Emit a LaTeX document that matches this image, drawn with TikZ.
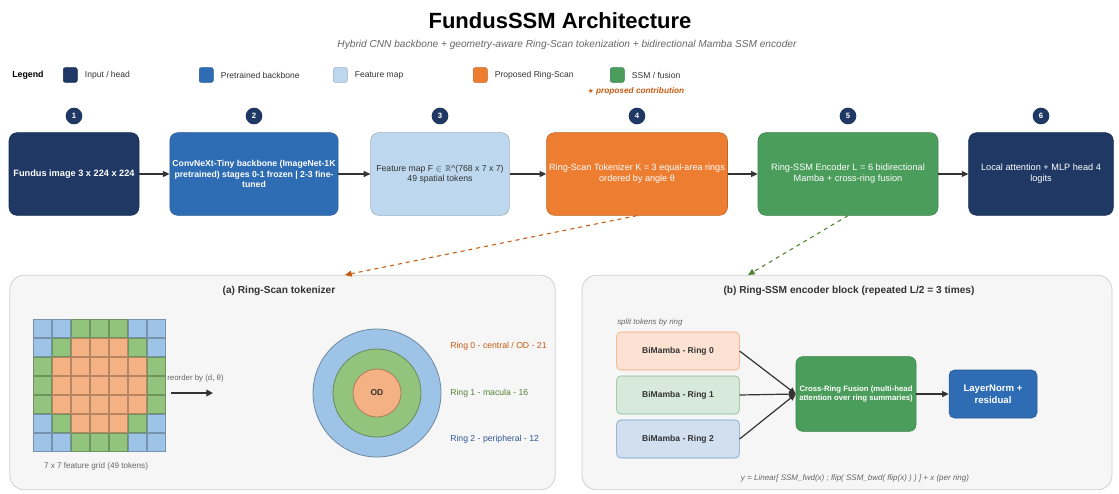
\documentclass[tikz,border=0pt]{standalone}
\usepackage{amssymb}
\usepackage{fontspec}
\setmainfont{Liberation Sans}
\newfontfamily\symbfont{DejaVu Sans}
\usetikzlibrary{arrows.meta}

\definecolor{navy}{HTML}{1F3864}
\definecolor{pretrained}{HTML}{2E6DB4}
\definecolor{featmap}{HTML}{BDD7EE}
\definecolor{ringscan}{HTML}{ED7D31}
\definecolor{ssmgreen}{HTML}{4A9D5B}
\definecolor{panelfill}{HTML}{F6F6F6}
\definecolor{panelline}{HTML}{D0D0D0}
\definecolor{darktext}{HTML}{333333}
\definecolor{greytext}{HTML}{666666}
\definecolor{cellblue}{HTML}{9DC3E6}
\definecolor{cellgreen}{HTML}{93C47D}
\definecolor{cellorange}{HTML}{F4B183}
\definecolor{ringzero}{HTML}{C55A11}
\definecolor{ringone}{HTML}{548235}
\definecolor{ringtwo}{HTML}{2F5597}

\newcommand{\fs}[1]{\fontsize{#1}{\dimexpr#1pt*6/5\relax}\selectfont}

\tikzset{
  stagebox/.style={rectangle, rounded corners=6pt, fill=#1, draw=#1!80!black,
    minimum height=62pt, align=center, inner sep=2pt, text=white},
  numdot/.style={circle, fill=navy, text=white, minimum size=12.5pt, inner sep=0pt,
    font=\fs{5.8}\bfseries},
  swatch/.style={rectangle, rounded corners=1.5pt, fill=#1, draw=#1!80!black,
    minimum width=10.5pt, minimum height=11pt, inner sep=0pt, anchor=west},
  legendtext/.style={anchor=west, font=\fs{6.4}, text=darktext},
  flow/.style={draw=darktext, line width=0.9pt, -{Triangle[length=5pt,width=4.5pt]}},
  panel/.style={rectangle, rounded corners=11pt, fill=panelfill, draw=panelline,
    line width=0.6pt},
  cellB/.style={fill=cellblue, draw=cellblue!75!black, line width=0.4pt},
  cellG/.style={fill=cellgreen, draw=cellgreen!75!black, line width=0.4pt},
  cellO/.style={fill=cellorange, draw=cellorange!75!black, line width=0.4pt},
  mambabox/.style={rectangle, rounded corners=3pt, fill=#1!22, draw=#1!70,
    minimum width=92pt, minimum height=28.5pt, font=\fs{6.4}\bfseries, text=darktext},
  smalltext/.style={font=\fs{5.2}\itshape, text=greytext}
}

\begin{document}
\begin{tikzpicture}[x=0.75pt,y=-0.75pt]
  \useasboundingbox (0,0) rectangle (1119,493);

  % Title and subtitle
  \node[font=\fs{16.5}\bfseries, text=black] (title) at (560,21) {FundusSSM Architecture};
  \node[font=\fs{7.6}\itshape, text=greytext] (subtitle) at (567,45)
    {Hybrid CNN backbone + geometry-aware Ring-Scan tokenization + bidirectional Mamba SSM encoder};

  % Legend
  \node[anchor=west, inner sep=0pt, font=\fs{6.6}\bfseries] (legend) at (12,75) {Legend};
  \node[swatch=navy] (sw1) at (63,75) {};
  \node[legendtext] at (sw1.east) {\hspace{2pt}Input / head};
  \node[swatch=pretrained] (sw2) at (199,75) {};
  \node[legendtext] at (sw2.east) {\hspace{2pt}Pretrained backbone};
  \node[swatch=featmap] (sw3) at (333,75) {};
  \node[legendtext] at (sw3.east) {\hspace{2pt}Feature map};
  \node[swatch=ringscan] (sw4) at (473,75) {};
  \node[legendtext] at (sw4.east) {\hspace{2pt}Proposed Ring-Scan};
  \node[swatch=ssmgreen] (sw5) at (610,75) {};
  \node[legendtext] at (sw5.east) {\hspace{2pt}SSM / fusion};
  \node[font=\fs{6.2}\itshape\bfseries, text=ringzero] (contrib) at (636,91)
    {{\symbfont\fs{5}★} proposed contribution};

  % Pipeline stages
  \node[stagebox=navy, minimum width=97.5pt, font=\fs{6.9}\bfseries] (b1) at (74,174)
    {Fundus image 3 x 224 x 224};
  \node[stagebox=pretrained, minimum width=124.5pt, font=\fs{6.5}\bfseries] (b2) at (254,174)
    {ConvNeXt-Tiny backbone (ImageNet-1K\\pretrained) stages 0-1 frozen | 2-3 fine-\\tuned};
  \node[stagebox=featmap, minimum width=104pt, font=\fs{6.5}, text=darktext] (b3) at (440,174)
    {Feature map F $\in\mathbb{R}$\^{}(768 x 7 x 7)\\49 spatial tokens};
  \node[stagebox=ringscan, minimum width=133.5pt, font=\fs{6.8}] (b4) at (637,174)
    {Ring-Scan Tokenizer K = 3 equal-area rings\\ordered by angle θ};
  \node[stagebox=ssmgreen, minimum width=135pt, font=\fs{6.9}] (b5) at (848,174)
    {Ring-SSM Encoder L = 6 bidirectional\\Mamba + cross-ring fusion};
  \node[stagebox=navy, minimum width=108.5pt, font=\fs{6.9}] (b6) at (1041,174)
    {Local attention + MLP head 4\\logits};

  % Step numbers
  \foreach \n/\x in {1/74, 2/254, 3/440, 4/637, 5/848, 6/1041}
    \node[numdot] (n\n) at (\x,116) {\n};

  % Stage arrows
  \draw[flow] (b1) -- (b2);
  \draw[flow] (b2) -- (b3);
  \draw[flow] (b3) -- (b4);
  \draw[flow] (b4) -- (b5);
  \draw[flow] (b5) -- (b6);

  % Detail panels
  \node[panel, minimum width=409pt, minimum height=161pt] (pa) at (282.5,382.5) {};
  \node[panel, minimum width=397.5pt, minimum height=161pt] (pb) at (847,382.5) {};
  \node[font=\fs{7.6}\bfseries, text=darktext] (pa-title) at (279,291) {(a) Ring-Scan tokenizer};
  \node[font=\fs{7.6}\bfseries, text=darktext] (pb-title) at (849,291)
    {(b) Ring-SSM encoder block (repeated L/2 = 3 times)};

  % Links from stages to panels
  \coordinate (pa-in) at (345,275);
  \coordinate (pb-in) at (748,275);
  \draw[ringzero, dashed, line width=0.8pt, -{Triangle[length=5pt,width=4.5pt]}] (b4.south) -- (pa-in);
  \draw[ringone, dashed, line width=0.8pt, -{Triangle[length=5pt,width=4.5pt]}] (b5.south) -- (pb-in);

  % 7 x 7 feature grid
  \foreach \row [count=\j from 0] in {{B,B,G,G,G,B,B},{B,G,O,O,O,G,B},{G,O,O,O,O,O,G},
      {G,O,O,O,O,O,G},{G,O,O,O,O,O,G},{B,G,O,O,O,G,B},{B,B,G,G,G,B,B}}
    \foreach \c [count=\i from 0] in \row
      \draw[cell\c] ({33.5+19*\i},{319.5+19*\j}) rectangle +(18,18);
  \node[smalltext, font=\fs{6.1}] (grid-label) at (96,466) {7 x 7 feature grid (49 tokens)};

  % Reorder arrow
  \coordinate (ro-a) at (171,393);
  \coordinate (ro-b) at (213,393);
  \draw[darktext, line width=1.2pt, -{Triangle[length=5pt,width=5pt]}] (ro-a) -- (ro-b);
  \node[font=\fs{5.9}, text=greytext, anchor=west, inner sep=0pt] (ro-label) at (167,378) {reorder by (d, θ)};

  % Concentric rings
  \node[circle, fill=cellblue, draw=cellblue!70!black, line width=0.6pt, minimum size=96pt] (ring2) at (377,393) {};
  \node[circle, fill=cellgreen, draw=cellgreen!70!black, line width=0.6pt, minimum size=66pt] (ring1) at (377,393) {};
  \node[circle, fill=cellorange, draw=cellorange!70!black, line width=0.6pt, minimum size=36pt,
    font=\fs{6.4}\bfseries, text=darktext] (ring0) at (377,393) {OD};
  \node[anchor=west, inner sep=0pt, font=\fs{6.5}, text=ringzero] (lab0) at (450,346) {Ring 0 - central / OD - 21};
  \node[anchor=west, inner sep=0pt, font=\fs{6.5}, text=ringone] (lab1) at (450,393) {Ring 1 - macula - 16};
  \node[anchor=west, inner sep=0pt, font=\fs{6.5}, text=ringtwo] (lab2) at (450,439) {Ring 2 - peripheral - 12};

  % Encoder block
  \node[smalltext, font=\fs{5.9}\itshape, anchor=west, inner sep=0pt] (split) at (617,322) {split tokens by ring};
  \node[mambabox=ringscan] (m0) at (678,351) {BiMamba - Ring 0};
  \node[mambabox=ssmgreen] (m1) at (678,395) {BiMamba - Ring 1};
  \node[mambabox=pretrained] (m2) at (678,439) {BiMamba - Ring 2};
  \node[stagebox=ssmgreen, minimum width=90pt, minimum height=56pt, rounded corners=5pt,
    font=\fs{5.8}\bfseries] (fusion) at (856,394)
    {Cross-Ring Fusion (multi-head\\attention over ring summaries)};
  \node[stagebox=pretrained, minimum width=66pt, minimum height=36pt, rounded corners=4pt,
    font=\fs{7.2}\bfseries] (norm) at (993,394) {LayerNorm +\\residual};
  \draw[flow] (m0.east) -- (fusion.west);
  \draw[flow] (m1.east) -- (fusion.west);
  \draw[flow] (m2.east) -- (fusion.west);
  \draw[flow] (fusion) -- (norm);
  \node[smalltext, font=\fs{6}\itshape] (formula) at (855,478)
    {y = Linear[ SSM\_fwd(x) ; flip( SSM\_bwd( flip(x) ) ) ] + x (per ring)};
\end{tikzpicture}
\end{document}
